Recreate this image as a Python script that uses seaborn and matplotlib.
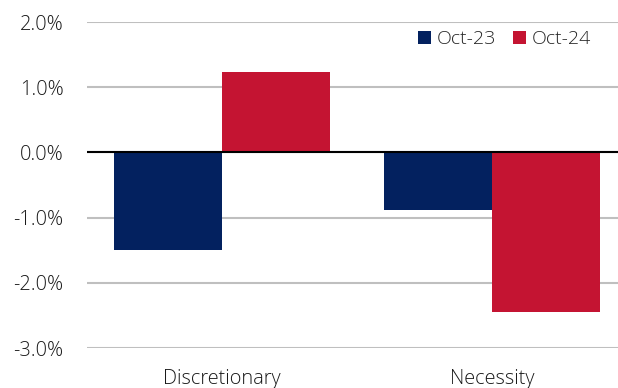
import matplotlib
matplotlib.use("Agg")
import matplotlib.pyplot as plt
import seaborn as sns
import pandas as pd

categories = ["Discretionary", "Necessity"]
periods = ["Oct-23", "Oct-24"]
oct23 = [-1.49, -0.89]
oct24 = [1.24, -2.45]
yticks = [-3.0, -2.0, -1.0, 0.0, 1.0, 2.0]

navy = "#03215F"
red = "#C41432"

df = pd.DataFrame({
    "category": categories * 2,
    "period": [periods[0]] * 2 + [periods[1]] * 2,
    "value": oct23 + oct24,
})

sns.set_style("white")
plt.rcParams["font.family"] = ["Open Sans", "DejaVu Sans"]
plt.rcParams["font.weight"] = "light"

fig = plt.figure(figsize=(6.18, 3.88), dpi=100)
ax = fig.add_axes([87 / 618, 40 / 388, 540 / 618, 326 / 388])

sns.barplot(data=df, x="category", y="value", hue="period",
            order=categories, hue_order=periods,
            palette=[navy, red], width=0.8, saturation=1,
            linewidth=0, ax=ax, zorder=3)

ax.set_xlim(-0.5, 1.5)
ax.set_ylim(-3.0, 2.0)
ax.set_yticks(yticks)
ax.set_yticklabels([f"{v:.1f}%" for v in yticks])
ax.grid(axis="y", color="#BFBFBF", linewidth=1.5, zorder=0)
ax.set_axisbelow(True)
ax.axhline(0, color="black", linewidth=1.5, zorder=4)

for s in ax.spines.values():
    s.set_visible(False)
ax.tick_params(axis="y", length=0, pad=17, labelsize=14.3, labelcolor="#1a1a1a")
ax.tick_params(axis="x", length=0, pad=15, labelsize=14.3, labelcolor="#1a1a1a")
ax.set_xlabel("")
ax.set_ylabel("")

handles, labels = ax.get_legend_handles_labels()
ax.legend(handles, labels, ncol=2, frameon=False, loc="center left",
          bbox_to_anchor=(418 / 618, 349 / 388), bbox_transform=fig.transFigure,
          handlelength=0.65, handleheight=0.65, handletextpad=0.3,
          columnspacing=0.9, fontsize=14, borderaxespad=0, borderpad=0)

fig.savefig("out.png", dpi=100)
